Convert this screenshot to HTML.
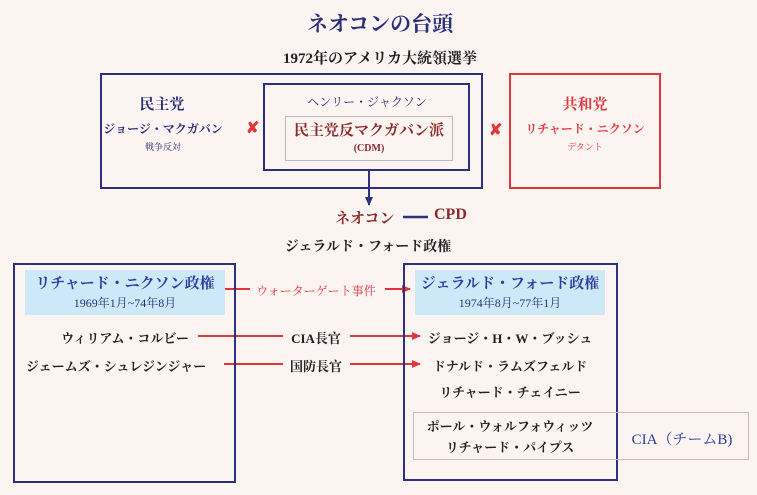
<!DOCTYPE html>
<html><head><meta charset="utf-8"><style>
body{margin:0;width:757px;height:495px;background:#fbf4f1;position:relative;overflow:hidden;font-family:"Liberation Serif","Noto Serif CJK SC","Noto Sans CJK JP",serif;}
.a{position:absolute;white-space:nowrap;}
.c{transform:translateX(-50%);}
.b{position:absolute;box-sizing:border-box;}
.navy{color:#2a2f7a}.red{color:#e0373c}.dred{color:#8b2a2a}
.t{font-size:13px;color:#222;font-weight:bold}
</style></head><body>
<div class="a c navy" style="left:380px;top:8px;font-size:21px;font-weight:bold">ネオコンの台頭</div>
<div class="a c" style="left:380px;top:47px;font-size:15px;font-weight:bold;color:#222">1972年のアメリカ大統領選挙</div>

<div class="b" style="left:100px;top:73px;width:383px;height:116px;border:2px solid #2b3080"></div>
<div class="b" style="left:263px;top:83px;width:207px;height:88px;border:2px solid #2b3080"></div>
<div class="b" style="left:285px;top:116px;width:168px;height:45px;border:1px solid #bbb"></div>
<div class="b" style="left:509px;top:73px;width:152px;height:116px;border:2px solid #e0373c"></div>

<div class="a c navy" style="left:162px;top:93px;font-size:15px;font-weight:bold">民主党</div>
<div class="a c navy" style="left:163px;top:120px;font-size:12px;font-weight:bold">ジョージ・マクガバン</div>
<div class="a c navy" style="left:163px;top:140px;font-size:9px">戦争反対</div>
<div class="a red" style="left:246px;top:118px;font-size:16px;font-weight:bold">✘</div>
<div class="a c navy" style="left:367px;top:93px;font-size:12px">ヘンリー・ジャクソン</div>
<div class="a c dred" style="left:369px;top:119px;font-size:15px;font-weight:bold">民主党反マクガバン派</div>
<div class="a c dred" style="left:369px;top:143px;font-size:10px;font-weight:bold">(CDM)</div>
<div class="a red" style="left:489px;top:120px;font-size:16px;font-weight:bold">✘</div>
<div class="a c red" style="left:585px;top:93px;font-size:15px;font-weight:bold">共和党</div>
<div class="a c red" style="left:585px;top:120px;font-size:12px;font-weight:bold">リチャード・ニクソン</div>
<div class="a c red" style="left:585px;top:140px;font-size:9px">デタント</div>

<svg class="a" style="left:0;top:0" width="757" height="495">
<defs><marker id="ab" markerUnits="userSpaceOnUse" markerWidth="10" markerHeight="10" refX="8" refY="5" orient="auto"><path d="M0,1L9,5L0,9z" fill="#2b3080"/></marker>
<marker id="ar" markerUnits="userSpaceOnUse" markerWidth="10" markerHeight="10" refX="8" refY="5" orient="auto"><path d="M0,1L9,5L0,9z" fill="#e0373c"/></marker></defs>
<line x1="369" y1="171" x2="369" y2="205" stroke="#2b3080" stroke-width="2" marker-end="url(#ab)"/>
<line x1="403" y1="217" x2="428" y2="217" stroke="#2b3080" stroke-width="2.5"/>
<line x1="225" y1="289" x2="250" y2="289" stroke="#e0373c" stroke-width="2"/>
<line x1="385" y1="289" x2="410" y2="289" stroke="#e0373c" stroke-width="2" marker-end="url(#ar)"/>
<line x1="198" y1="336" x2="283" y2="336" stroke="#e0373c" stroke-width="2"/>
<line x1="350" y1="336" x2="420" y2="336" stroke="#e0373c" stroke-width="2" marker-end="url(#ar)"/>
<line x1="224" y1="364" x2="283" y2="364" stroke="#e0373c" stroke-width="2"/>
<line x1="350" y1="364" x2="420" y2="364" stroke="#e0373c" stroke-width="2" marker-end="url(#ar)"/>
</svg>
<div class="a dred" style="left:335px;top:207px;font-size:15px;font-weight:bold">ネオコン</div>
<div class="a dred" style="left:434px;top:206px;font-size:16px;font-weight:bold">CPD</div>
<div class="a c" style="left:368px;top:236px;font-size:14px;color:#222;font-weight:bold">ジェラルド・フォード政権</div>

<div class="b" style="left:13px;top:263px;width:223px;height:220px;border:2px solid #2b3080"></div>
<div class="b" style="left:25px;top:270px;width:200px;height:45px;background:#cde9f8"></div>
<div class="b" style="left:403px;top:263px;width:215px;height:218px;border:2px solid #2b3080"></div>
<div class="b" style="left:415px;top:270px;width:190px;height:45px;background:#cde9f8"></div>
<div class="b" style="left:413px;top:412px;width:336px;height:48px;border:1px solid #c9b9b5"></div>

<div class="a c" style="left:125px;top:272px;font-size:15px;font-weight:bold;color:#2b3ea0">リチャード・ニクソン政権</div>
<div class="a c navy" style="left:125px;top:294px;font-size:12px">1969年1月~74年8月</div>
<div class="a c red" style="left:316px;top:282px;font-size:12px">ウォーターゲート事件</div>
<div class="a c" style="left:510px;top:272px;font-size:15px;font-weight:bold;color:#2b3ea0">ジェラルド・フォード政権</div>
<div class="a c navy" style="left:510px;top:294px;font-size:12px">1974年8月~77年1月</div>

<div class="a c t" style="left:125px;top:328px">ウィリアム・コルビー</div>
<div class="a c t" style="left:316px;top:328px">CIA長官</div>
<div class="a c t" style="left:510px;top:328px">ジョージ・H・W・ブッシュ</div>
<div class="a c t" style="left:116px;top:356px">ジェームズ・シュレジンジャー</div>
<div class="a c t" style="left:316px;top:356px">国防長官</div>
<div class="a c t" style="left:510px;top:356px">ドナルド・ラムズフェルド</div>
<div class="a c t" style="left:510px;top:382px">リチャード・チェイニー</div>
<div class="a c t" style="left:510px;top:416px">ポール・ウォルフォウィッツ</div>
<div class="a c t" style="left:510px;top:437px">リチャード・パイプス</div>
<div class="a c" style="left:682px;top:428px;font-size:15px;color:#2b3ea0">CIA（チームB)</div>
</body></html>
